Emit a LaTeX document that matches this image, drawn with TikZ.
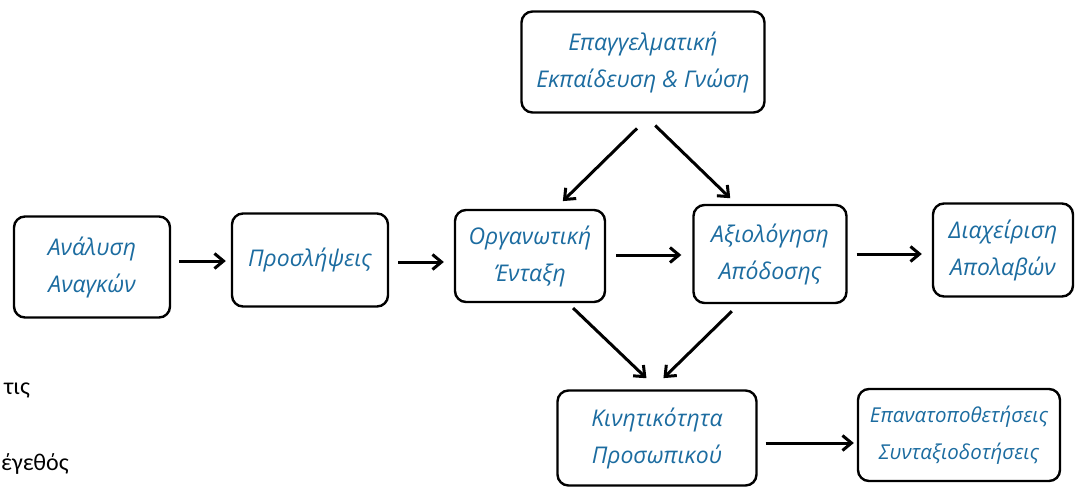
\documentclass[tikz,border=0pt]{standalone}
\usepackage{fontspec}
\usepackage{xcolor}
\setmainfont{Open Sans}
\newfontfamily\bodyfont{Carlito}
\usetikzlibrary{arrows.meta}
\definecolor{inkblue}{RGB}{28,108,160}

\begin{document}
\begin{tikzpicture}[x=1pt,y=-1pt]
    \tikzset{box/.style = {draw,line width=2.4pt,rounded corners=11pt,align=center,
        text=inkblue,font=\fontsize{23}{37}\selectfont\itshape,inner sep=0pt}}
    \tikzset{arrow/.style = {line width=3pt,-{Straight Barb[length=9pt,width=15pt]}}}
    \useasboundingbox (0,0) rectangle (1081,487);

    % boxes
    \node[box,minimum width=243pt,minimum height=101pt] (epag) at (643,62) {Επαγγελματική\\Εκπαίδευση \& Γνώση};
    \node[box,minimum width=156pt,minimum height=101pt] (anal) at (92,267) {Ανάλυση\\Αναγκών};
    \node[box,minimum width=156pt,minimum height=93pt] (prosl) at (310,260) {Προσλήψεις};
    \node[box,minimum width=150pt,minimum height=92pt] (organ) at (530,256) {Οργανωτική\\Ένταξη};
    \node[box,minimum width=153pt,minimum height=98pt] (axiol) at (770,254) {Αξιολόγηση\\Απόδοσης};
    \node[box,minimum width=140pt,minimum height=93pt] (diax) at (1003,250) {Διαχείριση\\Απολαβών};
    \node[box,minimum width=199pt,minimum height=95pt] (kinit) at (657,438) {Κινητικότητα\\Προσωπικού};
    \node[box,minimum width=202pt,minimum height=92pt,font=\fontsize{20.5}{37}\selectfont\itshape] (epan) at (959,435) {Επανατοποθετήσεις\\Συνταξιοδοτήσεις};

    % cut-off text at the left
    \node[anchor=base west,inner sep=0pt,font=\bodyfont\fontsize{24}{28}\selectfont] (tis) at (4,394) {τις};
    \node[anchor=base west,inner sep=0pt,font=\bodyfont\fontsize{24}{28}\selectfont] (meg) at (1,470) {έγεθός};

    % arrows
    \draw[arrow,shorten <=8pt,shorten >=5pt] ([yshift=6pt]anal.east) -- ([yshift=-1pt]prosl.west);
    \draw[arrow,shorten <=9pt,shorten >=10pt] ([yshift=-2pt]prosl.east) -- ([yshift=-6pt]organ.west);
    \draw[arrow,shorten <=10pt,shorten >=11pt] ([yshift=1pt]organ.east) -- ([yshift=-1pt]axiol.west);
    \draw[arrow,shorten <=9pt,shorten >=10pt] (axiol.east) -- ([yshift=-4pt]diax.west);
    \draw[arrow,shorten <=8pt,shorten >=3pt] ([yshift=-5pt]kinit.east) -- ([yshift=-8pt]epan.west);
    \draw[arrow,shorten <=21pt,shorten >=11pt] ([xshift=9pt]epag.south) -- ([xshift=25pt]organ.north);
    \draw[arrow,shorten <=17pt,shorten >=8pt] (epag.south) -- ([xshift=-34pt]axiol.north);
    \draw[arrow,shorten <=7pt,shorten >=16pt] ([xshift=38pt]organ.south) -- ([xshift=1pt]kinit.north);
    \draw[arrow,shorten <=10pt,shorten >=16pt] ([xshift=-31pt]axiol.south) -- ([xshift=-5pt]kinit.north);
\end{tikzpicture}
\end{document}
